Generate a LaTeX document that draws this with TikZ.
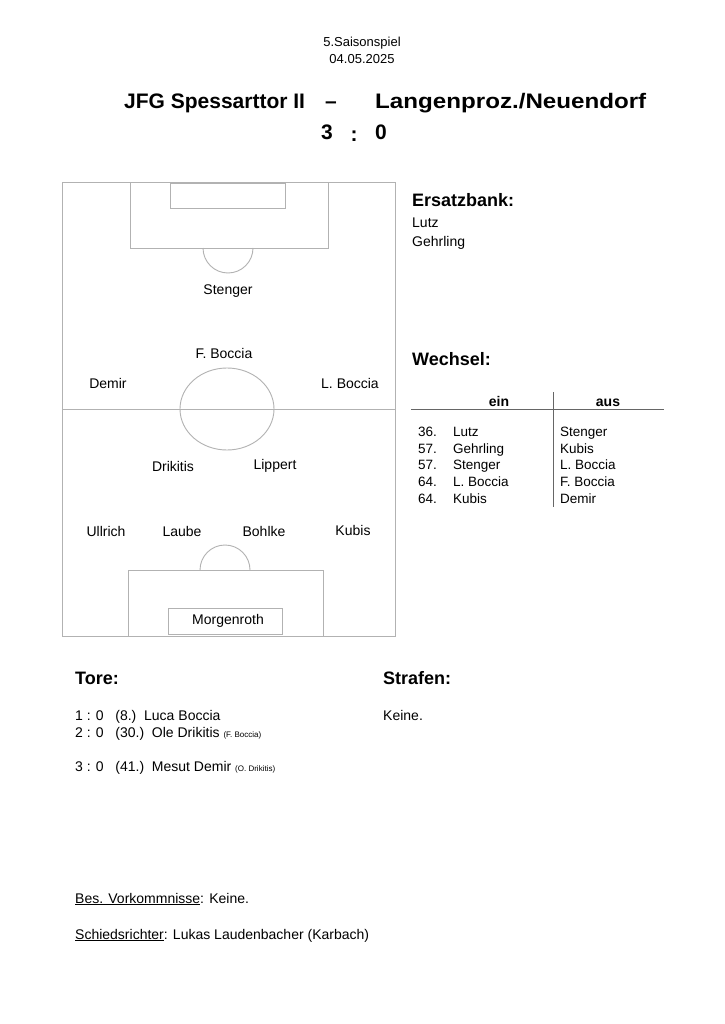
\documentclass[tikz,border=0pt]{standalone}
\usepackage{fontspec}
\setmainfont{Liberation Sans}
\begin{document}
\begin{tikzpicture}[x=1pt,y=-1pt,
  pitchline/.style={draw=black!30,line width=0.9pt},
  player/.style={font=\fontsize{14}{14}\selectfont,inner sep=1pt},
  txt/.style={anchor=base west,font=\fontsize{14}{16}\selectfont,inner sep=0pt},
  head/.style={anchor=base west,font=\fontsize{18}{20}\selectfont\bfseries,inner sep=0pt},
  big/.style={anchor=base,inner sep=0pt,font=\fontsize{21}{24}\selectfont\bfseries}]
  \useasboundingbox[fill=white] (0,0) rectangle (724,1024);
  %% header
  \node (spiel) at (362,43) {\fontsize{13}{14}\selectfont 5.Saisonspiel};
  \node (datum) at (362,59) {\fontsize{13}{14}\selectfont 04.05.2025};
  \node[big,anchor=base west] (heim) at (124,109) {JFG Spessarttor II};
  \node[big] (strich) at (331,109) {--};
  \node[big,anchor=base west,xscale=1.15] (gast) at (375,109) {Langenproz./Neuendorf};
  \node[big] (toreH) at (327,140) {3};
  \node[big] (dp) at (354,142) {:};
  \node[big] (toreG) at (381,140) {0};
  %% pitch
  \draw[pitchline] (62,182) rectangle (395,636);
  \draw[pitchline] (62,409) -- (395,409);
  \draw[pitchline] (130,182) rectangle (328,248);
  \draw[pitchline] (170,183) rectangle (285,208);
  \draw[pitchline] (203,248) arc[start angle=180,end angle=0,radius=25];
  \draw[pitchline] (227,409) ellipse[x radius=47,y radius=41];
  \draw[pitchline] (128,570) rectangle (323,636);
  \draw[pitchline] (168,608) rectangle (282,634);
  \draw[pitchline] (200,570) arc[start angle=180,end angle=360,radius=25];
  %% players
  \node[player] (stenger) at (228,291) {Stenger};
  \node[player] (fboccia) at (224,353) {F. Boccia};
  \node[player] (demir) at (108,383) {Demir};
  \node[player] (lboccia) at (350,383) {L. Boccia};
  \node[player] (drikitis) at (173,466) {Drikitis};
  \node[player] (lippert) at (275,466) {Lippert};
  \node[player] (ullrich) at (106,531) {Ullrich};
  \node[player] (laube) at (182,531) {Laube};
  \node[player] (bohlke) at (264,531) {Bohlke};
  \node[player] (kubis) at (353,530) {Kubis};
  \node[player] (morgenroth) at (228,621) {Morgenroth};
  %% bench and substitutions
  \node[head] (bank) at (412,207) {Ersatzbank:};
  \node[txt] (lutz) at (412,227) {Lutz};
  \node[txt] (gehrling) at (412,247) {Gehrling};
  \node[head] (wechsel) at (412,365) {Wechsel:};
  \node[anchor=base,inner sep=0pt,font=\fontsize{14}{16}\selectfont\bfseries] (ein) at (499,406) {ein};
  \node[anchor=base,inner sep=0pt,font=\fontsize{14}{16}\selectfont\bfseries] (aus) at (608,406) {aus};
  \draw[black!60] (411,409) -- (664,409);
  \draw[black!60] (553,392) -- (553,507);
  \foreach \y/\m/\a/\b in {436/36./Lutz/Stenger,453/57./Gehrling/Kubis,469/57./Stenger/L. Boccia,486/64./L. Boccia/F. Boccia,503/64./Kubis/Demir}{
    \node[txt,font=\fontsize{13.5}{15}\selectfont] at (418,\y) {\m};
    \node[txt,font=\fontsize{13.5}{15}\selectfont] at (453,\y) {\a};
    \node[txt,font=\fontsize{13.5}{15}\selectfont] at (560,\y) {\b};
  }
  %% goals and penalties
  \node[head] (tore) at (75,684) {Tore:};
  \node[head] (strafen) at (383,684) {Strafen:};
  \node[txt] (t1) at (75,720) {1 : 0~~~(8.)~~Luca Boccia};
  \node[txt] (t2) at (75,737) {2 : 0~~~(30.)~~Ole Drikitis {\fontsize{8}{9}\selectfont (F. Boccia)}};
  \node[txt] (t3) at (75,771) {3 : 0~~~(41.)~~Mesut Demir {\fontsize{8}{9}\selectfont (O. Drikitis)}};
  \node[txt] (keine) at (383,720) {Keine.};
  %% footer
  \node[txt] (vork) at (75,903) {\underline{Bes. Vorkommnisse}: Keine.};
  \node[txt] (schiri) at (75,939) {\underline{Schiedsrichter}: Lukas Laudenbacher (Karbach)};
\end{tikzpicture}
\end{document}
